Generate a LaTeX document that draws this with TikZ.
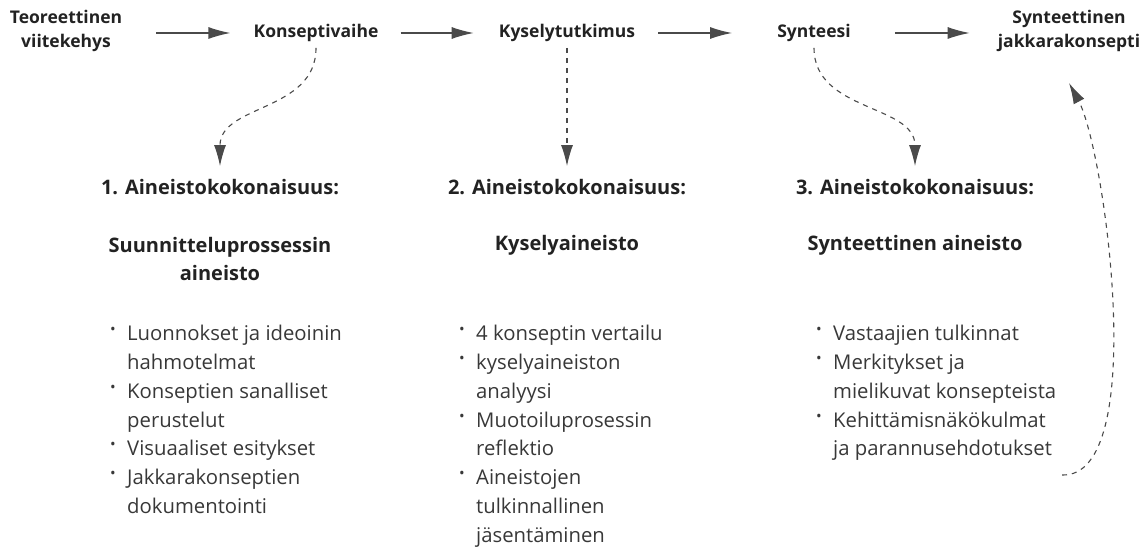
\documentclass[tikz,border=0pt]{standalone}
\usepackage{fontspec}
\setmainfont{Open Sans}
\usetikzlibrary{arrows.meta}

\definecolor{teksti}{HTML}{222222}
\definecolor{nuoli}{HTML}{4A4A4A}
\newcommand{\pallo}{\makebox[17pt][l]{\raisebox{.55ex}{\fontsize{15}{15}\selectfont•}}}
\newcommand{\tyhja}{\hspace*{17pt}}

\begin{document}
\begin{tikzpicture}[
    x=1pt,
    y=-1pt,
    vaihe/.style={
      font=\fontsize{17.5}{24}\selectfont\bfseries,
      text=teksti,
      align=center,
      inner sep=0
    },
    otsikko/.style={
      font=\fontsize{20}{28}\selectfont\bfseries,
      text=teksti,
      align=center,
      inner sep=0
    },
    lista/.style={
      font=\fontsize{20.3}{28.8}\selectfont,
      text=teksti!90!white,
      align=left,
      anchor=north west,
      inner sep=0
    },
    virta/.style={draw=nuoli, line width=1.3pt, -{Latex[length=22pt, width=12pt]}},
    katko/.style={draw=nuoli, line width=1.1pt, dashed, dash pattern=on 5pt off 5pt,
      -{Latex[length=21pt, width=12pt]}}]
   \useasboundingbox (0,0) rectangle (1145,548);

   \path
     node(teor)    at (  66,31)  [vaihe] {Teoreettinen\\viitekehys}
     node(konsept) at ( 316,33)  [vaihe] {Konseptivaihe}
     node(kysely)  at ( 567,33)  [vaihe] {Kyselytutkimus}
     node(synt)    at ( 814,33)  [vaihe] {Synteesi}
     node(jakkara) at (1069,31)  [vaihe] {Synteettinen\\jakkarakonsepti};

   \path
     node(osa1)    at (220,187)  [otsikko] {1. Aineistokokonaisuus:}
     node(osa2)    at (567,187)  [otsikko] {2. Aineistokokonaisuus:}
     node(osa3)    at (915,187)  [otsikko] {3. Aineistokokonaisuus:}
     node(nimi1)   at (220,259)  [otsikko] {Suunnitteluprossessin\\aineisto}
     node(nimi2)   at (567,245)  [otsikko] {Kyselyaineisto}
     node(nimi3)   at (915,245)  [otsikko] {Synteettinen aineisto};

   \node(lista1) at (110,325) [lista] {\pallo Luonnokset ja ideoinin\\\tyhja hahmotelmat\\
     \pallo Konseptien sanalliset\\\tyhja perustelut\\\pallo Visuaaliset esitykset\\
     \pallo Jakkarakonseptien\\\tyhja dokumentointi};
   \node(lista2) at (459,325) [lista] {\pallo 4 konseptin vertailu\\\pallo kyselyaineiston\\
     \tyhja analyysi\\\pallo Muotoiluprosessin\\\tyhja reflektio\\\pallo Aineistojen\\
     \tyhja tulkinnallinen\\\tyhja jäsentäminen};
   \node(lista3) at (816,325) [lista] {\pallo Vastaajien tulkinnat\\\pallo Merkitykset ja\\
     \tyhja mielikuvat konsepteista\\\pallo Kehittämisnäkökulmat\\\tyhja ja parannusehdotukset};

   \coordinate (paluu) at (1062,475);

   \draw[virta, shorten <=34pt, shorten >=23pt] (teor.east |- konsept.west) -- (konsept.west);
   \draw[virta, shorten <=22pt, shorten >=25pt] (konsept.east) -- (kysely.west);
   \draw[virta, shorten <=23pt, shorten >=45pt] (kysely.east) -- (synt.west);
   \draw[virta, shorten <=44pt, shorten >=28pt] (synt.east) -- (synt.east -| jakkara.west);

   \draw[katko, shorten <=6pt, shorten >=13pt]
     (konsept.south) .. controls +(0,70) and +(0,-75) .. (osa1.north);
   \draw[katko, shorten <=6pt, shorten >=13pt] (kysely.south) -- (osa2.north);
   \draw[katko, shorten <=6pt, shorten >=13pt]
     (synt.south) .. controls +(0,70) and +(0,-75) .. (osa3.north);
   \draw[katko] (paluu) .. controls (1150,478) and (1105,150) .. ([yshift=-31pt]jakkara.south);
\end{tikzpicture}
\end{document}
